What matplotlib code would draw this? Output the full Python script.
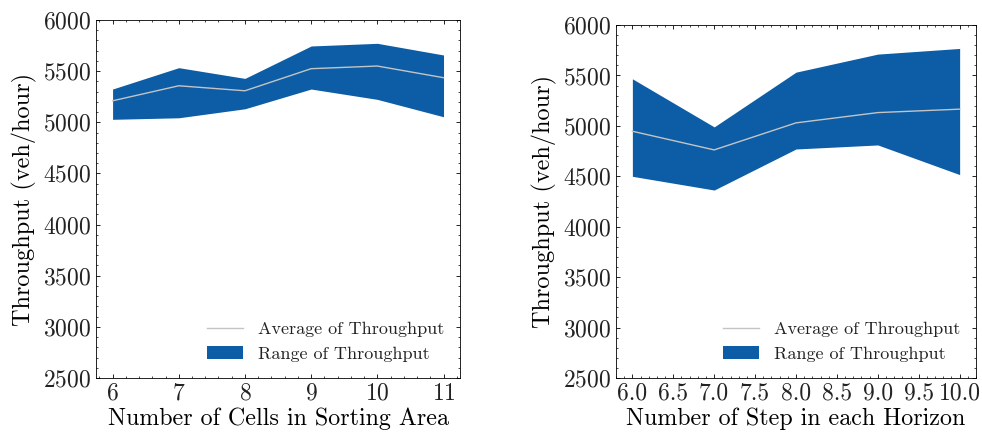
import numpy as np
import matplotlib
matplotlib.use("Agg")
import matplotlib.pyplot as plt
from matplotlib.ticker import MultipleLocator, FormatStrFormatter

# left panel: number of cells in sorting area
cells = [6, 7, 8, 9, 10, 11]
cells_mean = [5210, 5357, 5308, 5524, 5550, 5436]
cells_low = [5029, 5044, 5132, 5325, 5224, 5054]
cells_high = [5325, 5534, 5429, 5746, 5772, 5658]

# right panel: number of steps in each horizon
steps = [6, 7, 8, 9, 10]
steps_mean = [4947, 4762, 5030, 5132, 5166]
steps_low = [4500, 4364, 4771, 4811, 4517]
steps_high = [5467, 4990, 5533, 5712, 5768]

plt.rcParams.update({
    "font.family": ["cmr10"],
    "mathtext.fontset": "cm",
    "axes.formatter.use_mathtext": True,
    "axes.linewidth": 0.6,
    "xtick.direction": "in",
    "ytick.direction": "in",
    "xtick.top": True,
    "ytick.right": True,
    "xtick.minor.visible": True,
    "ytick.minor.visible": True,
    "xtick.major.size": 3,
    "ytick.major.size": 3,
    "xtick.minor.size": 1.5,
    "ytick.minor.size": 1.5,
    "xtick.major.width": 0.6,
    "ytick.major.width": 0.6,
    "xtick.minor.width": 0.5,
    "ytick.minor.width": 0.5,
    "text.color": "#222222",
    "xtick.labelcolor": "#222222",
    "ytick.labelcolor": "#222222",
})

fill_col = "#0C5DA5"
line_col = "#c4c4c4"

fig = plt.figure(figsize=(9.82, 4.32), dpi=100)
ax1 = fig.add_axes([0.0978, 0.125, 0.3707, 0.8287])
ax2 = fig.add_axes([0.6273, 0.125, 0.3666, 0.817])

panels = [
    (ax1, cells, cells_mean, cells_low, cells_high, "Number of Cells in Sorting Area"),
    (ax2, steps, steps_mean, steps_low, steps_high, "Number of Step in each Horizon"),
]

for ax, x, m, lo, hi, xlab in panels:
    ax.plot(x, m, color=line_col, lw=1.0, label="Average of Throughput", zorder=3)
    ax.fill_between(x, lo, hi, color=fill_col, lw=0, label="Range of Throughput")
    ax.set_ylim(2500, 6000)
    ax.set_xlabel(xlab, fontsize=17.3, labelpad=2)
    ax.set_ylabel("Throughput (veh/hour)", fontsize=17.5, labelpad=4)
    ax.tick_params(labelsize=17)
    ax.legend(loc="lower right", frameon=False, fontsize=13)

ax1.xaxis.set_major_locator(MultipleLocator(1))
ax2.xaxis.set_major_locator(MultipleLocator(0.5))
ax2.xaxis.set_major_formatter(FormatStrFormatter("%.1f"))

fig.savefig("out.png", dpi=100)
